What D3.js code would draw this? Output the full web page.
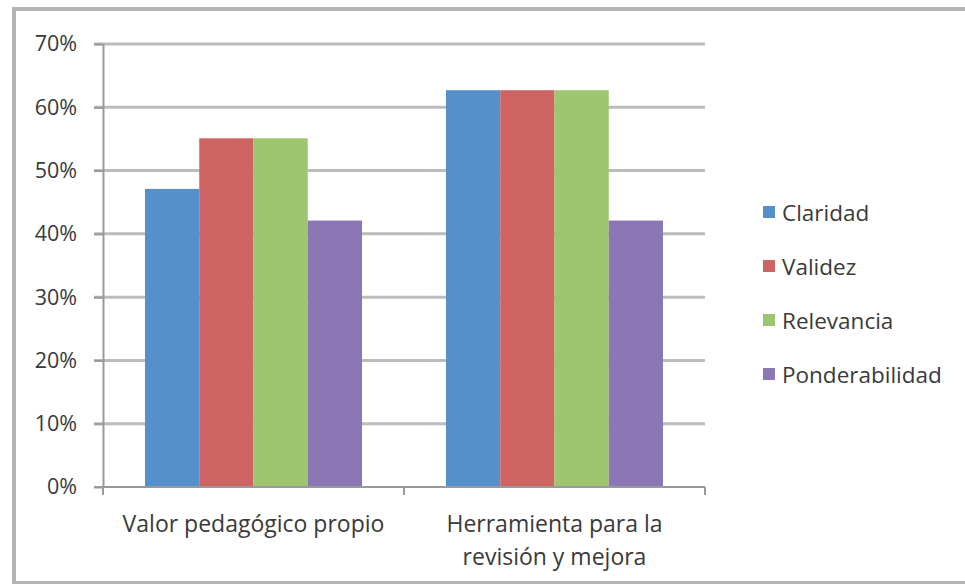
<!DOCTYPE html>
<html lang="es">
<head>
  <meta charset="UTF-8">
  <title>Valoración del instrumento</title>
  <script src="https://d3js.org/d3.v7.min.js"></script>
  <style>
    body {
      margin: 0;
      background: #fff;
      font-family: 'Open Sans', sans-serif;
    }
    .frame {
      fill: none;
      stroke: #b4b4b4;
      stroke-width: 4;
    }
    .grid line {
      stroke: #bcbcbc;
      stroke-width: 3;
    }
    .axis path, .axis line {
      stroke: #9a9a9a;
      stroke-width: 2;
    }
    .axis text, .label, .legend text {
      fill: #3a3a3a;
    }
  </style>
</head>
<body>
  <div id="chart"></div>

  <script>
    // categories, series and values
    const categories = ["Valor pedagógico propio", "Herramienta para la revisión y mejora"];
    const categoryLines = [["Valor pedagógico propio"], ["Herramienta para la", "revisión y mejora"]];
    const series = ["Claridad", "Validez", "Relevancia", "Ponderabilidad"];
    const claridad = [0.471, 0.627];
    const validez = [0.551, 0.627];
    const relevancia = [0.551, 0.627];
    const ponderabilidad = [0.421, 0.421];
    const yTicks = [0, 0.1, 0.2, 0.3, 0.4, 0.5, 0.6, 0.7];
    const colors = ["#5590cc", "#cd6461", "#9ec56f", "#8b76b6"];

    const values = [claridad, validez, relevancia, ponderabilidad];

    const W = 965, H = 584;
    const plot = { left: 103, right: 705, top: 44, bottom: 487 };

    const svg = d3.select("#chart").append("svg")
      .attr("width", W)
      .attr("height", H);

    // outer chart border
    svg.append("rect")
      .attr("class", "frame")
      .attr("x", 14).attr("y", 9)
      .attr("width", W + 10).attr("height", H - 10);

    const y = d3.scaleLinear()
      .domain([0, 0.7])
      .range([plot.bottom, plot.top]);

    const x0 = d3.scaleBand()
      .domain(categories)
      .range([plot.left, plot.right]);

    const gap = 42;
    const x1 = d3.scaleBand()
      .domain(series)
      .range([gap, x0.bandwidth() - gap]);

    const color = d3.scaleOrdinal().domain(series).range(colors);

    // gridlines
    svg.append("g")
      .attr("class", "grid")
      .selectAll("line")
      .data(yTicks.filter(d => d > 0))
      .join("line")
      .attr("x1", plot.left - 9)
      .attr("x2", plot.right)
      .attr("y1", d => y(d))
      .attr("y2", d => y(d));

    // bars
    svg.append("g")
      .selectAll("g")
      .data(series)
      .join("g")
      .attr("fill", d => color(d))
      .selectAll("rect")
      .data((s, si) => categories.map((c, ci) => ({ s, c, v: values[si][ci] })))
      .join("rect")
      .attr("x", d => x0(d.c) + x1(d.s))
      .attr("y", d => y(d.v))
      .attr("width", x1.bandwidth())
      .attr("height", d => y(0) - y(d.v));

    // y axis
    const yAxis = svg.append("g")
      .attr("class", "axis")
      .attr("transform", `translate(${plot.left},0)`)
      .call(d3.axisLeft(y)
        .tickValues(yTicks)
        .tickFormat(d3.format(".0%"))
        .tickSizeInner(9)
        .tickSizeOuter(0)
        .tickPadding(17));
    yAxis.selectAll("text")
      .style("font-size", "21.5px")
      .style("font-family", "'Open Sans', sans-serif");

    // x axis line with boundary ticks
    const xAxis = svg.append("g").attr("class", "axis");
    xAxis.append("line")
      .attr("x1", plot.left - 9).attr("x2", plot.right)
      .attr("y1", y(0)).attr("y2", y(0));
    xAxis.selectAll(".bt")
      .data([plot.left, x0(categories[1]), plot.right])
      .join("line")
      .attr("x1", d => d).attr("x2", d => d)
      .attr("y1", y(0)).attr("y2", y(0) + 8);

    // category labels
    svg.append("g")
      .selectAll("text")
      .data(categories)
      .join("text")
      .attr("class", "label")
      .attr("text-anchor", "middle")
      .attr("x", d => x0(d) + x0.bandwidth() / 2)
      .attr("y", 532)
      .style("font-size", "23px")
      .selectAll("tspan")
      .data((d, i) => categoryLines[i])
      .join("tspan")
      .attr("x", function () { return d3.select(this.parentNode).attr("x"); })
      .attr("dy", (d, i) => i === 0 ? 0 : 33)
      .text(d => d);

    // legend
    const legend = svg.append("g")
      .attr("class", "legend")
      .selectAll("g")
      .data(series)
      .join("g")
      .attr("transform", (d, i) => `translate(763,${213 + i * 54})`);

    legend.append("rect")
      .attr("x", 0).attr("y", -7)
      .attr("width", 12).attr("height", 12)
      .attr("fill", d => color(d));

    legend.append("text")
      .attr("x", 19)
      .attr("y", 0)
      .attr("dy", "0.35em")
      .style("font-size", "22.5px")
      .text(d => d);
  </script>
</body>
</html>
